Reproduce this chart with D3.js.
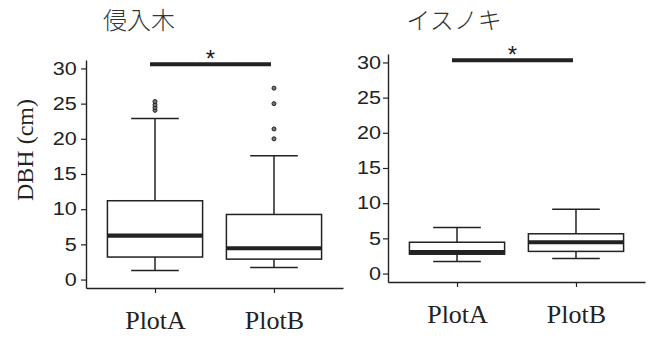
<!DOCTYPE html>
<html><head><meta charset="utf-8">
<script src="https://cdn.jsdelivr.net/npm/d3@7"></script>
<style>
body{margin:0;background:#fff;}
svg{display:block;}
</style></head>
<body>
<svg id="chart" width="649" height="339"></svg>
<script>
// ---- data ----
const categories = ["PlotA", "PlotB"];
const panelTitles = ["侵入木", "イスノキ"];
const yTicks = [0, 5, 10, 15, 20, 25, 30];
const yLabel = "DBH (cm)";
// five-number summaries [min whisker, q1, median, q3, max whisker]
const invasiveBoxes = [[1.3, 3.2, 6.25, 11.2, 22.9], [1.7, 2.9, 4.45, 9.25, 17.6]];
const invasiveOutliers = [[24.05, 24.45, 24.85, 25.3], [20.0, 21.4, 25.0, 27.2]];
const isunokiBoxes = [[1.7, 2.75, 3.05, 4.45, 6.55], [2.15, 3.15, 4.45, 5.65, 9.15]];
const isunokiOutliers = [[], []];
const sigLevel = [30.6, 30.3];
const sigMark = "*";

const svg = d3.select("#chart");
const ink = "#222";

const panels = [
  {title: panelTitles[0], boxes: invasiveBoxes, outliers: invasiveOutliers, sig: sigLevel[0],
   xr: [86, 343], yr: [288, 60], showYLabel: true, titleX: 139, tickEnd: 9.3},
  {title: panelTitles[1], boxes: isunokiBoxes, outliers: isunokiOutliers, sig: sigLevel[1],
   xr: [388, 645], yr: [282, 54], showYLabel: false, titleX: 454, tickEnd: 7}
];

panels.forEach(p => {
  const g = svg.append("g");
  const x = d3.scalePoint().domain(categories).range(p.xr).padding(0.58);
  const y = d3.scaleLinear().domain([-1.2, 31.2]).range(p.yr);
  const step = x.step();
  const bw = step * 0.8;
  const cw = bw * 0.5;

  // y axis
  const ya = g.append("g").attr("transform", `translate(${p.xr[0]},0)`)
    .call(d3.axisLeft(y).tickValues(yTicks).tickSize(5).tickSizeOuter(0).tickPadding(3));
  ya.select(".domain").attr("stroke", ink).attr("stroke-width", 1.4);
  ya.selectAll(".tick line").attr("stroke", ink).attr("stroke-width", 1.2);
  ya.selectAll("text").attr("font-family", "'Liberation Sans', Arial, sans-serif")
    .attr("font-size", 18).attr("fill", ink)
    .attr("x", -p.tickEnd / 1.2).attr("transform", "scale(1.2,1)");

  // x axis
  const xa = g.append("g").attr("transform", `translate(0,${p.yr[0]})`)
    .call(d3.axisBottom(x).tickSize(5).tickSizeOuter(0).tickPadding(18));
  xa.select(".domain").attr("stroke", ink).attr("stroke-width", 1.4);
  xa.selectAll(".tick line").attr("stroke", ink).attr("stroke-width", 1.2);
  xa.selectAll("text").attr("font-family", "'Liberation Serif', 'Times New Roman', serif")
    .attr("font-size", 26).attr("fill", ink);

  // boxes
  categories.forEach((c, i) => {
    const [mn, q1, md, q3, mx] = p.boxes[i];
    const cx = x(c);
    const bg = g.append("g");
    bg.append("line").attr("x1", cx).attr("x2", cx).attr("y1", y(q3)).attr("y2", y(mx))
      .attr("stroke", ink).attr("stroke-width", 1.5);
    bg.append("line").attr("x1", cx).attr("x2", cx).attr("y1", y(q1)).attr("y2", y(mn))
      .attr("stroke", ink).attr("stroke-width", 1.5);
    [mn, mx].forEach(v => bg.append("line").attr("x1", cx - cw / 2).attr("x2", cx + cw / 2)
      .attr("y1", y(v)).attr("y2", y(v)).attr("stroke", ink).attr("stroke-width", 1.5));
    bg.append("rect").attr("x", cx - bw / 2).attr("width", bw)
      .attr("y", y(q3)).attr("height", y(q1) - y(q3))
      .attr("fill", "#fff").attr("stroke", ink).attr("stroke-width", 1.5);
    bg.append("line").attr("x1", cx - bw / 2).attr("x2", cx + bw / 2)
      .attr("y1", y(md)).attr("y2", y(md)).attr("stroke", ink).attr("stroke-width", 4.2);
    bg.selectAll("circle.o").data(p.outliers[i]).enter().append("circle")
      .attr("cx", cx).attr("cy", d => y(d)).attr("r", 2)
      .attr("fill", "#777").attr("stroke", ink).attr("stroke-width", 1);
  });

  // significance bar
  const sx1 = x(categories[0]) - 5, sx2 = x(categories[1]) - 3;
  g.append("line").attr("x1", sx1).attr("x2", sx2).attr("y1", y(p.sig)).attr("y2", y(p.sig))
    .attr("stroke", ink).attr("stroke-width", 4);
  g.append("text").attr("x", (sx1 + sx2) / 2).attr("y", y(p.sig) + 2.5)
    .attr("text-anchor", "middle").attr("font-family", "'Liberation Sans', Arial, sans-serif")
    .attr("font-size", 24).attr("fill", ink).text(sigMark);

  // title
  g.append("text").attr("x", p.titleX).attr("y", 29).attr("text-anchor", "middle")
    .attr("font-family", "'Noto Sans CJK JP', sans-serif").attr("font-size", 24)
    .attr("font-weight", 300).attr("fill", "#333").text(p.title);

  if (p.showYLabel) {
    g.append("text").attr("transform", "translate(33,150) rotate(-90)")
      .attr("text-anchor", "middle").attr("font-family", "'Liberation Serif', 'Times New Roman', serif")
      .attr("font-size", 24).attr("fill", ink).text(yLabel);
  }
});
</script>
</body></html>
